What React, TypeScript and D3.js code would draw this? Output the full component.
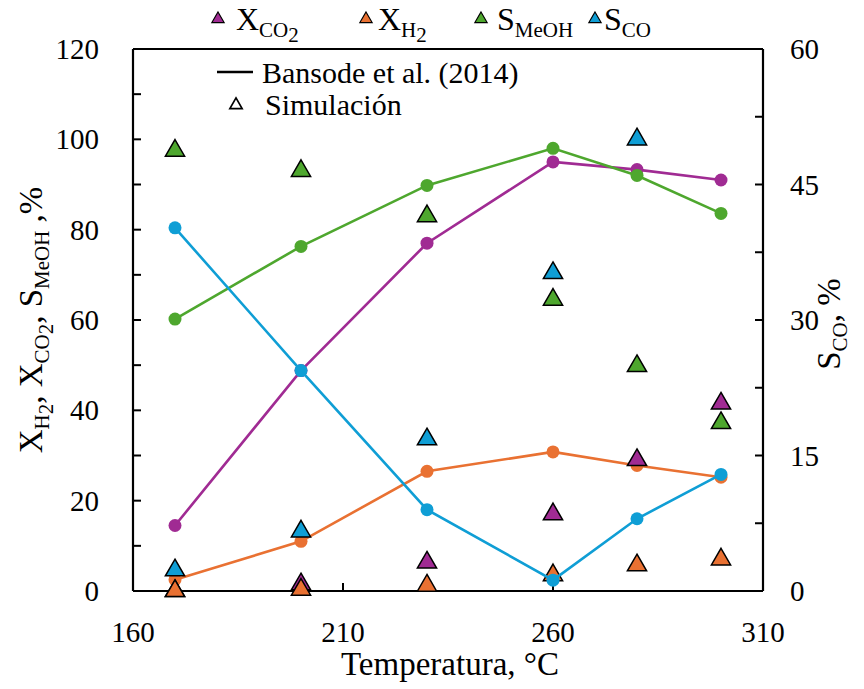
import React from "react";
import * as d3 from "d3";

const temps = [170, 200, 230, 260, 280, 300];
const xco2Exp = [14.5, 48.8, 77, 95, 93.3, 91];
const xh2Exp = [2.5, 11, 26.5, 30.8, 27.8, 25.2];
const smeohExp = [60.2, 76.3, 89.8, 98, 92, 83.6];
const scoExp = [40.2, 24.4, 9, 1.2, 8, 12.9];
const xco2Sim = [0, 1.5, 6.3, 17, 29, 41.5];
const xh2Sim = [0, 0.3, 1.2, 3.5, 5.7, 7];
const smeohSim = [97.5, 93, 83, 64.5, 49.8, 37.2];
const scoSim: (number | null)[] = [2.3, 6.6, 16.8, 35.2, 50, null];

const xTicks = [160, 210, 260, 310];
const yTicks = [0, 20, 40, 60, 80, 100, 120];
const y2Ticks = [0, 15, 30, 45, 60];

const C = {
  purple: "#A02B93",
  orange: "#E97132",
  green: "#4EA72E",
  blue: "#0F9ED5",
};

const W = 864, H = 689;
const L = 133, R = 763, T = 49, B = 591;
const FS: React.CSSProperties = { fontFamily: '"Liberation Serif", "Times New Roman", Tinos' };

export default function App() {
  const x = d3.scaleLinear().domain([160, 310]).range([L, R]);
  const y = d3.scaleLinear().domain([0, 120]).range([B, T]);
  const y2 = d3.scaleLinear().domain([0, 60]).range([B, T]);
  const tri = d3.symbol().type(d3.symbolTriangle).size(160)()!;
  const triSmall = d3.symbol().type(d3.symbolTriangle).size(65)()!;

  const lineFor = (vals: number[], sc: d3.ScaleLinear<number, number>) =>
    d3.line<number>().x((_, i) => x(temps[i])).y((v) => sc(v))(vals)!;

  const expSeries = (vals: number[], sc: any, color: string) => (
    <g>
      <path d={lineFor(vals, sc)} fill="none" stroke={color} strokeWidth={2.6} />
      {vals.map((v, i) => (
        <circle key={i} cx={x(temps[i])} cy={sc(v)} r={6.5} fill={color} />
      ))}
    </g>
  );
  const simSeries = (vals: (number | null)[], sc: any, color: string) => (
    <g>
      {vals.map((v, i) =>
        v == null ? null : (
          <path key={i} d={tri} transform={`translate(${x(temps[i])},${sc(v)})`} fill={color} stroke="#000" strokeWidth={1.5} />
        )
      )}
    </g>
  );

  const minorY = d3.range(0, 121, 10);
  const minorY2 = d3.range(0, 60.01, 7.5);

  const TF = 33; // title font
  const TS = 21; // title subscript
  const legendItems = [
    { color: C.purple, tx: 218, lx: 236, main: "X", sub: "CO", sub2: "2" },
    { color: C.orange, tx: 366, lx: 378, main: "X", sub: "H", sub2: "2" },
    { color: C.green, tx: 481, lx: 497, main: "S", sub: "MeOH" },
    { color: C.blue, tx: 595, lx: 604, main: "S", sub: "CO" },
  ];

  return (
    <svg className="chart" width={W} height={H} style={{ position: "absolute", left: 0, top: 0, background: "#fff" }}>
      <style>{`svg.chart text, svg.chart tspan { font-family: "Liberation Serif", "Times New Roman", Tinos, serif !important; }`}</style>
      <rect x={0} y={0} width={W} height={H} fill="#fff" />
      {/* axes frame */}
      <g stroke="#000" strokeWidth={2.2} fill="none">
        <line x1={L} y1={T} x2={R} y2={T} />
        <line x1={L} y1={T} x2={L} y2={B} />
        <line x1={R} y1={T} x2={R} y2={B} />
        <line x1={L} y1={B} x2={R} y2={B} />
      </g>
      {/* ticks */}
      <g stroke="#000" strokeWidth={2}>
        {minorY.map((t) => (
          <line key={"ly" + t} x1={L} x2={L + 8} y1={y(t)} y2={y(t)} />
        ))}
        {minorY2.map((t) => (
          <line key={"ry" + t} x1={R} x2={R - 8} y1={y2(t)} y2={y2(t)} />
        ))}
        {xTicks.map((t) => (
          <line key={"xt" + t} x1={x(t)} x2={x(t)} y1={B} y2={B - 8} />
        ))}
      </g>
      {/* tick labels */}
      <g fontSize={29} fill="#000">
        {yTicks.map((t) => (
          <text key={"yl" + t} style={FS} x={L - 34} y={y(t)} textAnchor="end" dominantBaseline="central">{t}</text>
        ))}
        {y2Ticks.map((t) => (
          <text key={"y2l" + t} style={FS} x={R + 27} y={y2(t)} textAnchor="start" dominantBaseline="central">{t}</text>
        ))}
        {xTicks.map((t) => (
          <text key={"xl" + t} style={FS} x={x(t)} y={B + 41} textAnchor="middle" dominantBaseline="central">{t}</text>
        ))}
      </g>
      {/* axis titles */}
      <text style={FS} x={450} y={664} fontSize={TF} textAnchor="middle" dominantBaseline="central">Temperatura, °C</text>
      <text style={FS} transform="translate(42,320) rotate(-90)" fontSize={TF} textAnchor="middle">
        <tspan>X</tspan>
        <tspan fontSize={TS} dy={7}>H</tspan>
        <tspan fontSize={TS} dy={4}>2</tspan>
        <tspan dy={-11}>, X</tspan>
        <tspan fontSize={TS} dy={7}>CO</tspan>
        <tspan fontSize={TS} dy={4}>2</tspan>
        <tspan dy={-11}>, S</tspan>
        <tspan fontSize={TS} dy={7}>MeOH</tspan>
        <tspan dy={-7}> ,%</tspan>
      </text>
      <text style={FS} transform="translate(840,324) rotate(-90)" fontSize={TF} textAnchor="middle">
        <tspan>S</tspan>
        <tspan fontSize={TS} dy={7}>CO</tspan>
        <tspan dy={-7}>, %</tspan>
      </text>

      {/* series: primary lines, primary sims, secondary */}
      {expSeries(xco2Exp, y, C.purple)}
      {expSeries(xh2Exp, y, C.orange)}
      {expSeries(smeohExp, y, C.green)}
      {simSeries(xco2Sim, y, C.purple)}
      {simSeries(xh2Sim, y, C.orange)}
      {simSeries(smeohSim, y, C.green)}
      {expSeries(scoExp, y2, C.blue)}
      {simSeries(scoSim, y2, C.blue)}

      {/* top legend */}
      {legendItems.map((it, i) => (
        <g key={i}>
          <path d={triSmall} transform={`translate(${it.tx},${19})`} fill={it.color} stroke="#000" strokeWidth={1.2} />
          <text style={FS} x={it.lx} y={30} fontSize={32}>
            <tspan>{it.main}</tspan>
            <tspan fontSize={21} dy={7}>{it.sub}</tspan>
            {it.sub2 ? <tspan fontSize={21} dy={5}>{it.sub2}</tspan> : null}
          </text>
        </g>
      ))}
      {/* inner legend */}
      <line x1={217} x2={253} y1={72} y2={72} stroke="#000" strokeWidth={2.6} />
      <text style={FS} x={262} y={72} fontSize={30} dominantBaseline="central">Bansode et al. (2014)</text>
      <path d={triSmall} transform="translate(236,105)" fill="none" stroke="#000" strokeWidth={1.7} />
      <text style={FS} x={265} y={104} fontSize={30} dominantBaseline="central">Simulación</text>
    </svg>
  );
}
